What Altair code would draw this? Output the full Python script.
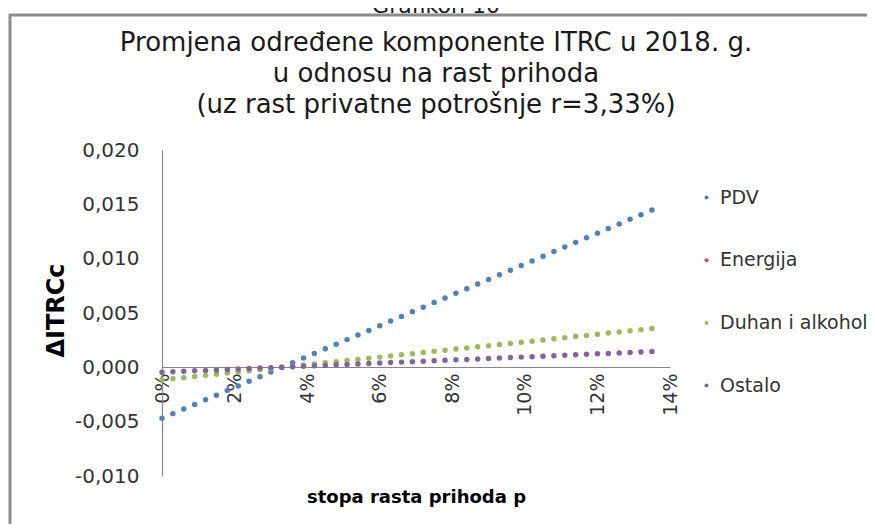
import altair as alt
import pandas as pd

# x values (stopa rasta prihoda p, in %)
x_pct = [0.0, 0.3, 0.6, 0.9, 1.2, 1.5, 1.8, 2.1, 2.4, 2.7, 3.0, 3.3, 3.6, 3.9, 4.2,
         4.5, 4.8, 5.1, 5.4, 5.7, 6.0, 6.3, 6.6, 6.9, 7.2, 7.5, 7.8, 8.1, 8.4, 8.7,
         9.0, 9.3, 9.6, 9.9, 10.2, 10.5, 10.8, 11.1, 11.4, 11.7, 12.0, 12.3, 12.6,
         12.9, 13.2, 13.5]

pdv = [-0.00469, -0.00426, -0.00384, -0.00341, -0.00299, -0.00256, -0.00213, -0.00171,
       -0.00128, -0.00086, -0.00043, 0.00000, 0.00042, 0.00085, 0.00127, 0.00170,
       0.00213, 0.00255, 0.00298, 0.00340, 0.00383, 0.00426, 0.00468, 0.00511,
       0.00553, 0.00596, 0.00639, 0.00681, 0.00724, 0.00766, 0.00809, 0.00852,
       0.00894, 0.00937, 0.00979, 0.01022, 0.01065, 0.01107, 0.01150, 0.01192,
       0.01235, 0.01278, 0.01320, 0.01363, 0.01405, 0.01448]

energija = []  # no visible points in the reference

duhan = [-0.00116, -0.00106, -0.00095, -0.00085, -0.00074, -0.00064, -0.00053, -0.00043,
         -0.00032, -0.00022, -0.00011, -0.00001, 0.00010, 0.00021, 0.00031, 0.00042,
         0.00052, 0.00063, 0.00073, 0.00084, 0.00094, 0.00105, 0.00115, 0.00126,
         0.00136, 0.00147, 0.00157, 0.00168, 0.00178, 0.00189, 0.00199, 0.00210,
         0.00220, 0.00231, 0.00241, 0.00252, 0.00262, 0.00273, 0.00283, 0.00294,
         0.00304, 0.00315, 0.00325, 0.00336, 0.00346, 0.00357]

ostalo = [-0.00045, -0.00041, -0.00037, -0.00032, -0.00028, -0.00024, -0.00020, -0.00015,
          -0.00011, -0.00007, -0.00003, 0.00001, 0.00006, 0.00010, 0.00014, 0.00018,
          0.00023, 0.00027, 0.00031, 0.00035, 0.00039, 0.00044, 0.00048, 0.00052,
          0.00056, 0.00061, 0.00065, 0.00069, 0.00073, 0.00077, 0.00082, 0.00086,
          0.00090, 0.00094, 0.00098, 0.00103, 0.00107, 0.00111, 0.00115, 0.00120,
          0.00124, 0.00128, 0.00132, 0.00136, 0.00141, 0.00145]

series = ["PDV", "Energija", "Duhan i alkohol", "Ostalo"]
colors = ["#4F81BD", "#C0504D", "#9BBB59", "#8064A2"]

x_ticks = [0, 2, 4, 6, 8, 10, 12, 14]
y_ticks = [-0.010, -0.005, 0.000, 0.005, 0.010, 0.015, 0.020]

title_top = "Grafikon 10"
title_lines = ["Promjena određene komponente ITRC u 2018. g.",
               "u odnosu na rast prihoda",
               "(uz rast privatne potrošnje r=3,33%)"]

rows = []
for name, vals in zip(series, [pdv, energija, duhan, ostalo]):
    for xv, yv in zip(x_pct, vals):
        rows.append({"p": xv, "v": yv, "serija": name})
df = pd.DataFrame(rows)

FONT = "DejaVu Sans"
TXT = "#333333"

points = alt.Chart(df).mark_circle(size=30, opacity=1).encode(
    x=alt.X("p:Q",
            scale=alt.Scale(domain=[0, 14], nice=False, zero=False),
            axis=alt.Axis(values=x_ticks, labelExpr="datum.value + '%'",
                          labelAngle=270, labelFontSize=19, labelPadding=6,
                          labelOverlap=False, labelFlush=False, labelColor=TXT,
                          labelFont=FONT, ticks=False, grid=False,
                          domainColor="#868686", domainWidth=1.2, offset=-109,
                          title="stopa rasta prihoda p", titleFont=FONT,
                          titleFontSize=18, titleFontWeight="bold", titleColor="black",
                          titleX=254, titleY=130, titleBaseline="middle")),
    y=alt.Y("v:Q",
            scale=alt.Scale(domain=[-0.010, 0.020], nice=False, zero=False),
            axis=alt.Axis(values=y_ticks,
                          labelExpr="(datum.value < 0 ? '-' : '') + replace(format(abs(datum.value), '.3f'), '.', ',')",
                          labelFontSize=20, labelPadding=23, labelColor=TXT, labelFont=FONT,
                          ticks=False, grid=False, domainColor="#868686", domainWidth=1.2,
                          title="ΔITRCc", titleFont=FONT, titleFontSize=24,
                          titleFontWeight="bold", titleColor="black", titleAngle=270,
                          titleX=-106, titleY=160, titleBaseline="middle", titleAlign="center")),
    color=alt.Color("serija:N",
                    scale=alt.Scale(domain=series, range=colors),
                    legend=alt.Legend(title=None, orient="none", legendX=535, legendY=38,
                                      labelFontSize=19, labelFont=FONT, labelColor=TXT,
                                      symbolSize=16, symbolType="circle", rowPadding=42.7,
                                      labelOffset=4, labelLimit=300)),
)

frame = alt.Chart(pd.DataFrame({"a": [0]})).mark_rect(
    fillOpacity=0, stroke="#8c8c8c", strokeWidth=3
).encode(x=alt.value(-152), x2=alt.value(730), y=alt.value(-135), y2=alt.value(400))

chart = alt.layer(frame, points).properties(
    width=508, height=326,
    autosize=alt.AutoSizeParams(type="none"),
    padding={"left": 154, "top": 142, "right": 197, "bottom": 48},
    background="white",
    title=alt.TitleParams(text=title_top, subtitle=title_lines, font=FONT, fontSize=22,
                          fontWeight="normal", color="#1a1a1a", subtitleFont=FONT,
                          subtitleFontSize=26, subtitleColor="#1a1a1a",
                          subtitleLineHeight=31, subtitlePadding=12, anchor="middle",
                          dx=20, dy=115, offset=10),
).configure_view(stroke=None)

chart.save("out.html", embed_options={"renderer": "svg", "actions": False})
